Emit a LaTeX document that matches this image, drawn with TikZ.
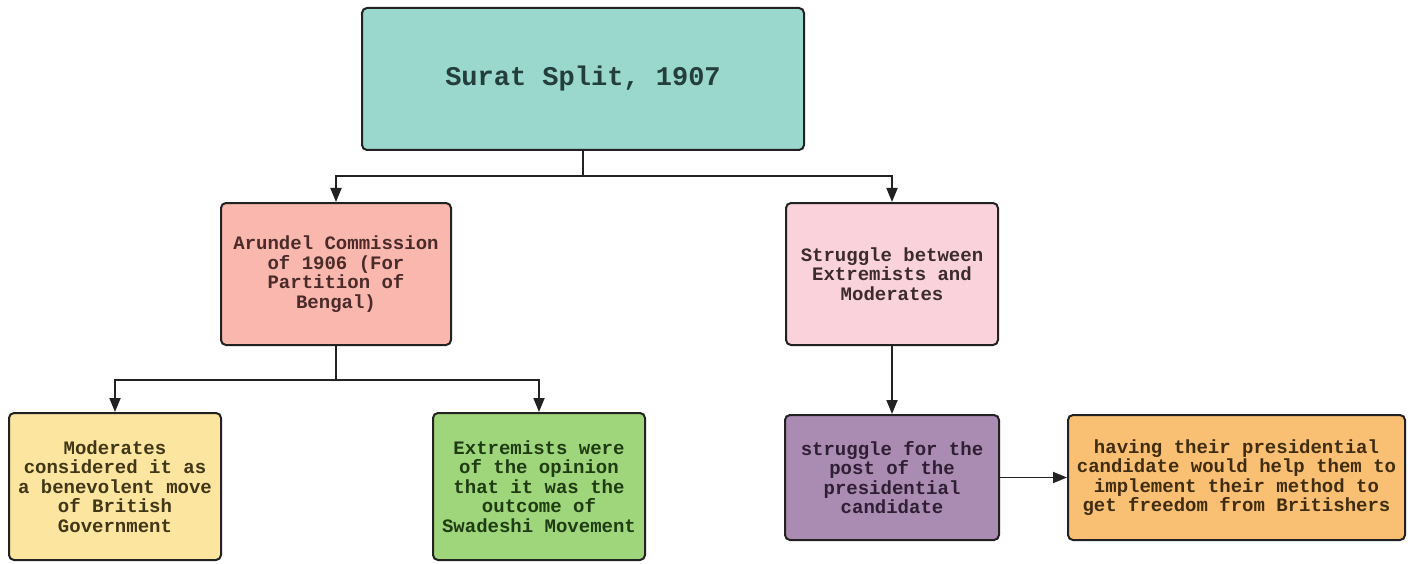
\documentclass[tikz,border=0pt]{standalone}
\usepackage{fontspec}
\setmonofont{Liberation Mono}
\usetikzlibrary{arrows.meta}
\definecolor{cTitle}{HTML}{9AD7CC}
\definecolor{cArun}{HTML}{F9B7AE}
\definecolor{cStrug}{HTML}{F9D2DB}
\definecolor{cMod}{HTML}{FCE59F}
\definecolor{cExt}{HTML}{9FD67B}
\definecolor{cPost}{HTML}{AA8BB1}
\definecolor{cHave}{HTML}{F9BF72}
\definecolor{tTitle}{HTML}{243F3B}
\definecolor{tArun}{HTML}{4A2B2A}
\definecolor{tStrug}{HTML}{3B2A2E}
\definecolor{tMod}{HTML}{403618}
\definecolor{tExt}{HTML}{1F3B13}
\definecolor{tPost}{HTML}{2F1F34}
\definecolor{tHave}{HTML}{402D11}
\definecolor{edge}{HTML}{222222}
\tikzset{
  box/.style={draw=edge, line width=2pt, rounded corners=5pt, align=center,
    inner sep=0pt, font=\ttfamily\bfseries\fontsize{19}{19.5}\selectfont},
  conn/.style={draw=edge, line width=1.8pt, -{Stealth[length=14pt,width=11pt,inset=0pt]}},
}
\begin{document}
\begin{tikzpicture}[x=1pt,y=-1pt]
\useasboundingbox (0,0) rectangle (1415,564);
\node[box, fill=cTitle, text=tTitle, minimum width=442pt, minimum height=142pt,
  font=\ttfamily\bfseries\fontsize{27}{30}\selectfont] (title) at (583,79) {Surat Split, 1907};
\node[box, fill=cArun, text=tArun, minimum width=230pt, minimum height=142pt] (arun) at (336,274)
  {Arundel Commission\\of 1906 (For\\Partition of\\Bengal)};
\node[box, fill=cStrug, text=tStrug, minimum width=212pt, minimum height=142pt] (strug) at (892,274)
  {Struggle between\\Extremists and\\Moderates};
\node[box, fill=cMod, text=tMod, minimum width=212pt, minimum height=147pt] (mod) at (115,486.5)
  {Moderates\\considered it as\\a benevolent move\\of British\\Government};
\node[box, fill=cExt, text=tExt, minimum width=212pt, minimum height=147pt] (ext) at (539,486.5)
  {Extremists were\\of the opinion\\that it was the\\outcome of\\Swadeshi Movement};
\node[box, fill=cPost, text=tPost, minimum width=214pt, minimum height=125pt] (post) at (892,477.5)
  {struggle for the\\post of the\\presidential\\candidate};
\node[box, fill=cHave, text=tHave, minimum width=337pt, minimum height=125pt] (have) at (1236.5,477.5)
  {having their presidential\\candidate would help them to\\implement their method to\\get freedom from Britishers};
\coordinate (j1) at (583,176);
\coordinate (j2) at (336,380);
\draw[conn] (title.south) -- (j1) -| (arun.north);
\draw[conn] (j1) -| (strug.north);
\draw[conn] (arun.south) -- (j2) -| (mod.north);
\draw[conn] (j2) -| (ext.north);
\draw[conn] (strug.south) -- (post.north);
\draw[conn] (post.east) -- (have.west);
\end{tikzpicture}
\end{document}
